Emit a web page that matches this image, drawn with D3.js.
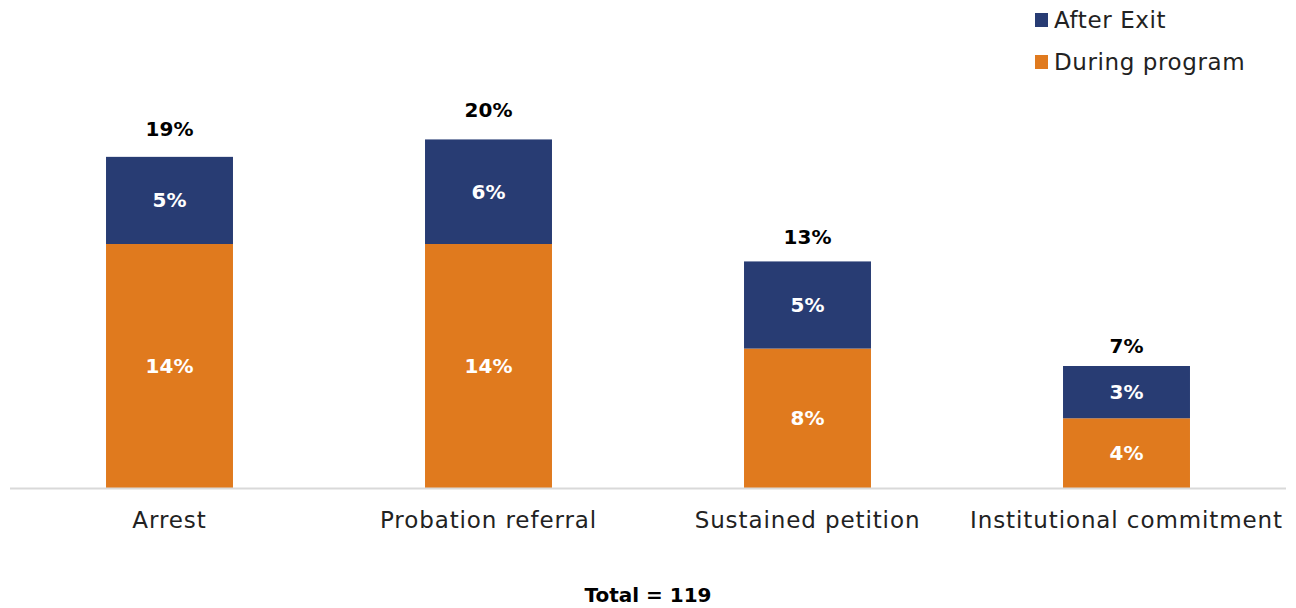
<!DOCTYPE html>
<html><head><meta charset="utf-8">
<script src="https://cdn.jsdelivr.net/npm/d3@7"></script>
<style>body{margin:0;background:#fff}svg{display:block}</style>
</head><body><svg id="c" width="1296" height="608"></svg>
<script>
const categories = ["Arrest","Probation referral","Sustained petition","Institutional commitment"];
const duringProgram = [14,14,8,4];
const afterExit = [5,6,5,3];
const totals = [19,20,13,7];
const seriesNames = ["After Exit","During program"];
const colors = {"During program":"#E07A1E","After Exit":"#283C73"};
const footnote = "Total = 119";

const font = "'DejaVu Sans', sans-serif";
const svg = d3.select("#c");
const x = d3.scaleBand().domain(categories).range([10,1286]).paddingInner(0.602).paddingOuter(0.301);
const y = d3.scaleLinear().domain([0,28]).range([488,0]);

const rows = categories.map((c,i)=>({cat:c,"During program":duringProgram[i],"After Exit":afterExit[i],total:totals[i]}));
const stack = d3.stack().keys(["During program","After Exit"])(rows);

svg.append("g").selectAll("g").data(stack).join("g").attr("fill",d=>colors[d.key])
 .selectAll("rect").data(d=>d).join("rect")
 .attr("x",d=>x(d.data.cat)).attr("width",x.bandwidth())
 .attr("y",d=>y(d[1])).attr("height",d=>y(d[0])-y(d[1]));

// segment labels
svg.append("g").selectAll("g").data(stack).join("g")
 .selectAll("text").data(d=>d).join("text")
 .attr("x",d=>x(d.data.cat)+x.bandwidth()/2)
 .attr("y",d=>(y(d[0])+y(d[1]))/2)
 .attr("dy","0.35em").attr("text-anchor","middle")
 .attr("fill","#fff").attr("font-family",font).attr("font-weight","bold").attr("font-size",20)
 .text(d=>(d[1]-d[0])+"%");

// totals
svg.append("g").selectAll("text").data(rows).join("text")
 .attr("x",d=>x(d.cat)+x.bandwidth()/2).attr("y",d=>y(d.total)-(15+0.7*d.total))
 .attr("dy","0.35em").attr("text-anchor","middle")
 .attr("fill","#000").attr("font-family",font).attr("font-weight","bold").attr("font-size",20)
 .text(d=>d.total+"%");

// axis
const ax = svg.append("g").attr("transform","translate(0,488)").call(d3.axisBottom(x).tickSize(0).tickPadding(24));
ax.select(".domain").attr("stroke","#d9d9d9").attr("stroke-width",2).attr("d","M10,0.5H1286");
ax.selectAll("text").attr("font-family",font).attr("font-size",23).attr("letter-spacing","0.9px").attr("fill","#222");

// legend
const lg = svg.append("g").selectAll("g").data(seriesNames).join("g")
 .attr("transform",(d,i)=>`translate(1035,${13+i*42})`);
lg.append("rect").attr("width",13).attr("height",14).attr("fill",d=>colors[d]);
lg.append("text").attr("x",19).attr("y",7).attr("dy","0.35em")
 .attr("font-family",font).attr("font-size",23).attr("letter-spacing","0.6px").attr("fill","#222").text(d=>d);

svg.append("text").attr("x",648).attr("y",595).attr("dy","0.35em").attr("text-anchor","middle")
 .attr("font-family",font).attr("font-weight","bold").attr("font-size",20).attr("fill","#000").text(footnote);
</script></body></html>
